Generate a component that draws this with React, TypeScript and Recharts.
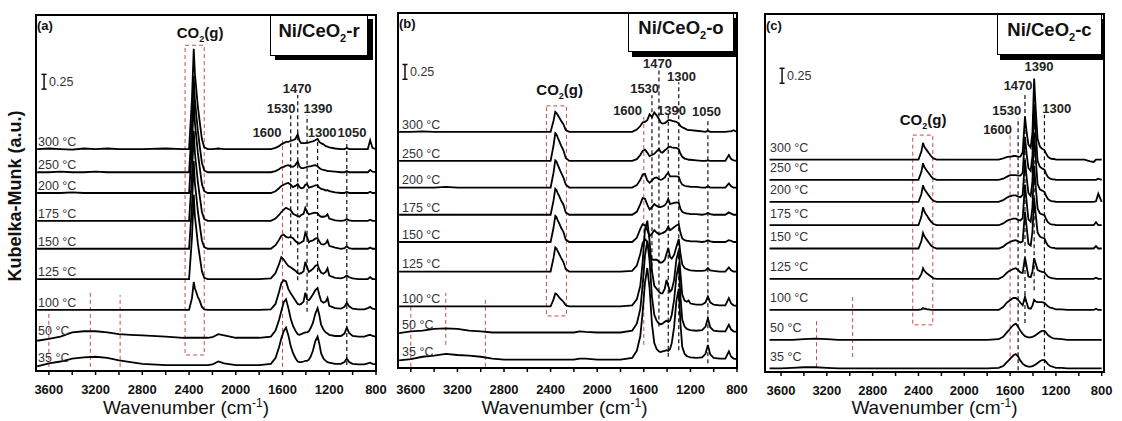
import { LineChart, Line, XAxis, YAxis, ReferenceLine, ReferenceArea, ReferenceDot } from "recharts"

// wavenumber grid (cm-1), denser around the CO2(g) and carbonate bands
const wavenumbers = [
  3700, 3600, 3500, 3400, 3300, 3200, 3100, 3000, 2900, 2800, 2600, 2450,
  2400, 2375, 2360, 2350, 2340, 2325, 2310, 2290, 2270, 2240, 2200, 2150, 2100,
  2000, 1800, 1700,
  1660, 1630, 1610, 1590, 1570, 1550, 1530, 1510, 1490, 1470, 1455, 1440, 1420,
  1405, 1390, 1375, 1360, 1340, 1320, 1300, 1285, 1270, 1250, 1230, 1215, 1200,
  1150, 1100, 1070, 1050, 1030, 1000, 950, 900, 870, 850, 830, 800,
]

const temperatures = ["300 °C", "250 °C", "200 °C", "175 °C", "150 °C", "125 °C", "100 °C", "50 °C", "35 °C"]

const xTicks = [800, 1000, 1200, 1400, 1600, 1800, 2000, 2200, 2400, 2600, 2800, 3000, 3200, 3400, 3600]

// vertical offsets of the stacked spectra (a.u.)
const rodsBaselines = [3.74, 3.35, 3.0, 2.53, 2.06, 1.55, 1.03, 0.56, 0.1]
const octaBaselines = [3.99, 3.5, 3.05, 2.59, 2.13, 1.63, 1.04, 0.6, 0.14]
const cubesBaselines = [3.56, 3.22, 2.85, 2.46, 2.07, 1.56, 1.04, 0.54, 0.06]

// Kubelka-Munk intensity above each baseline, one row per temperature
const rodsSpectra = [
  [0, 0.01, 0, -0.01, 0.01, 0, 0.01, 0, 0, 0, 0.01, 0,
   0, 0.85, 1.69, 1.27, 1.05, 0.72, 0.48, 0.17, 0.03, 0, 0, 0.01, 0,
   0, 0, 0,
   0.02, 0.05, 0.08, 0.1, 0.12, 0.12, 0.14, 0.15, 0.17, 0.25, 0.14, 0.1, 0.1,
   0.1, 0.11, 0.11, 0.12, 0.13, 0.15, 0.17, 0.12, 0.1, 0.08, 0.05, 0.04, 0.03,
   0.01, 0, 0, 0.02, 0, 0, 0, 0, 0, 0.15, 0.02, 0],
  [0, 0, 0.01, 0, 0, 0.01, 0, 0, 0, 0, 0, 0,
   0, 0.8, 1.62, 1.22, 1, 0.7, 0.46, 0.16, 0.03, 0, 0, 0, 0,
   0, 0, 0,
   0.02, 0.05, 0.08, 0.09, 0.11, 0.12, 0.1, 0.09, 0.12, 0.18, 0.1, 0.07, 0.07,
   0.08, 0.09, 0.1, 0.1, 0.11, 0.12, 0.1, 0.07, 0.05, 0.04, 0.03, 0.02, 0.02,
   0.01, 0, 0, 0.02, 0, 0, 0, 0, 0, 0.04, 0.01, 0],
  [0, 0, 0, 0.01, 0, 0, 0, 0, 0, 0, 0, 0,
   0, 0.78, 1.58, 1.18, 0.98, 0.68, 0.45, 0.15, 0.03, 0, 0, 0, 0,
   0, 0, 0,
   0.03, 0.08, 0.12, 0.14, 0.16, 0.17, 0.14, 0.1, 0.12, 0.15, 0.1, 0.08, 0.09,
   0.14, 0.15, 0.09, 0.1, 0.11, 0.13, 0.13, 0.09, 0.07, 0.06, 0.04, 0.05, 0.03,
   0.01, 0, 0, 0.02, 0, 0, 0, 0, 0, 0.02, 0, 0],
  [0, 0, 0, 0, 0, 0, 0, 0, 0, 0, 0, 0,
   0, 0.75, 1.52, 1.14, 0.95, 0.66, 0.44, 0.15, 0.03, 0, 0, 0, 0,
   0, 0, 0,
   0.04, 0.1, 0.15, 0.19, 0.22, 0.2, 0.18, 0.12, 0.1, 0.08, 0.07, 0.1, 0.12,
   0.22, 0.15, 0.11, 0.12, 0.13, 0.14, 0.13, 0.09, 0.07, 0.07, 0.08, 0.11, 0.04,
   0.01, 0, 0.01, 0.03, 0.01, 0, 0, 0, 0, 0.02, 0, 0],
  [0, 0, 0, 0, 0, 0, 0, 0, 0, 0, 0, 0,
   0, 0.72, 1.48, 1.1, 0.92, 0.64, 0.42, 0.14, 0.03, 0, 0, 0, 0,
   0, 0, 0,
   0.06, 0.15, 0.22, 0.24, 0.2, 0.19, 0.2, 0.18, 0.13, 0.1, 0.09, 0.11, 0.13,
   0.27, 0.2, 0.11, 0.13, 0.14, 0.17, 0.18, 0.12, 0.08, 0.07, 0.09, 0.14, 0.05,
   0.02, 0, 0.01, 0.04, 0.01, 0, 0, 0, 0, 0.02, 0, 0],
  [0, 0, 0, 0, 0, 0, 0, 0, 0, 0, 0, 0,
   0, 0.7, 1.42, 1.06, 0.88, 0.6, 0.4, 0.13, 0.02, 0, 0, 0, 0,
   0, 0, 0.01,
   0.1, 0.25, 0.37, 0.33, 0.27, 0.22, 0.2, 0.17, 0.14, 0.1, 0.09, 0.1, 0.13,
   0.29, 0.2, 0.12, 0.14, 0.17, 0.22, 0.24, 0.16, 0.11, 0.09, 0.12, 0.18, 0.06,
   0.02, 0.01, 0.03, 0.06, 0.03, 0.01, 0, 0, 0, 0.03, 0, 0],
  [0, 0, 0, 0, 0, 0, 0, 0, 0, 0, 0, 0,
   0, 0.2, 0.47, 0.36, 0.31, 0.22, 0.16, 0.05, 0.01, 0, 0, 0, 0,
   0, 0, 0.01,
   0.1, 0.3, 0.45, 0.5, 0.48, 0.35, 0.28, 0.22, 0.16, 0.1, 0.09, 0.1, 0.14,
   0.29, 0.18, 0.16, 0.2, 0.26, 0.33, 0.37, 0.25, 0.15, 0.12, 0.14, 0.2, 0.07,
   0.03, 0.02, 0.05, 0.12, 0.06, 0.02, 0.01, 0.01, 0.03, 0.05, 0.02, 0.01],
  [-0.05, -0.02, 0.02, 0.09, 0.11, 0.11, 0.09, 0.06, 0.05, 0.04, 0.02, 0,
   0, 0, 0, 0, 0, 0, 0, 0, 0, 0, 0.01, 0.06, 0.04,
   0, 0, 0.02,
   0.12, 0.3, 0.45, 0.6, 0.65, 0.5, 0.32, 0.2, 0.12, 0.06, 0.05, 0.06, 0.08,
   0.09, 0.09, 0.11, 0.16, 0.25, 0.4, 0.5, 0.38, 0.22, 0.14, 0.09, 0.07, 0.05,
   0.03, 0.03, 0.07, 0.17, 0.08, 0.03, 0.02, 0.02, 0.04, 0.05, 0.03, 0.02],
  [-0.02, 0.03, 0.06, 0.11, 0.13, 0.14, 0.12, 0.08, 0.05, 0.02, 0, 0,
   0, 0, 0, 0, 0, 0, 0, 0, 0, 0, 0.01, 0.06, 0.03,
   0, 0, 0.02,
   0.12, 0.3, 0.45, 0.57, 0.63, 0.5, 0.32, 0.2, 0.12, 0.06, 0.05, 0.05, 0.06,
   0.07, 0.07, 0.09, 0.14, 0.24, 0.4, 0.48, 0.36, 0.2, 0.11, 0.07, 0.05, 0.04,
   0.02, 0.02, 0.05, 0.11, 0.05, 0.02, 0.01, 0.01, 0.03, 0.04, 0.02, 0.01],
]

const octaSpectra = [
  [0, 0, 0.01, 0, 0, 0, 0, 0, 0, 0, 0, 0,
   0, 0.19, 0.34, 0.32, 0.29, 0.24, 0.19, 0.13, 0.03, 0, 0, 0, 0,
   0, 0, 0,
   0.04, 0.1, 0.16, 0.17, 0.2, 0.3, 0.25, 0.33, 0.28, 0.22, 0.16, 0.14, 0.15,
   0.17, 0.2, 0.2, 0.19, 0.18, 0.17, 0.14, 0.1, 0.08, 0.06, 0.04, 0.03, 0.03,
   0.02, 0.01, 0, 0.02, 0, 0, 0, 0, 0.01, 0.01, 0.03, 0],
  [0, 0, 0, 0, 0, 0, 0, 0, 0, 0, 0, 0,
   0, 0.26, 0.47, 0.45, 0.4, 0.33, 0.26, 0.18, 0.05, 0, 0, 0, 0,
   0, 0, 0,
   0.03, 0.1, 0.17, 0.19, 0.14, 0.08, 0.1, 0.12, 0.16, 0.2, 0.15, 0.14, 0.18,
   0.2, 0.23, 0.24, 0.23, 0.22, 0.22, 0.2, 0.12, 0.07, 0.04, 0.03, 0.02, 0.02,
   0.01, 0, 0, 0.01, 0, 0, 0, 0, 0.1, 0.03, 0.01, 0],
  [0, 0, 0, 0, 0.01, 0, 0, 0, 0, 0, 0, 0,
   0, 0.25, 0.46, 0.44, 0.39, 0.32, 0.25, 0.17, 0.05, 0, 0, 0, 0,
   0, 0, 0,
   0.04, 0.13, 0.22, 0.23, 0.12, 0.08, 0.12, 0.16, 0.17, 0.14, 0.13, 0.14, 0.17,
   0.22, 0.25, 0.19, 0.19, 0.19, 0.19, 0.18, 0.1, 0.05, 0.03, 0.02, 0.02, 0.01,
   0.01, 0, 0, 0.02, 0, 0, 0, 0, 0.07, 0.02, 0, 0],
  [0, 0, 0, 0, 0, 0, 0, 0, 0, 0, 0, 0,
   0, 0.24, 0.44, 0.42, 0.37, 0.31, 0.24, 0.17, 0.04, 0, 0, 0, 0,
   0, 0, 0,
   0.05, 0.18, 0.28, 0.27, 0.17, 0.09, 0.13, 0.18, 0.15, 0.13, 0.13, 0.14, 0.16,
   0.2, 0.27, 0.18, 0.19, 0.2, 0.21, 0.2, 0.1, 0.05, 0.03, 0.02, 0.02, 0.01,
   0.01, 0, 0.01, 0.03, 0.01, 0, 0, 0, 0.04, 0.02, 0, 0],
  [0, 0, 0, 0, 0, 0, 0, 0, 0, 0, 0, 0,
   0, 0.24, 0.44, 0.42, 0.37, 0.31, 0.24, 0.17, 0.04, 0, 0, 0, 0,
   0, 0, 0,
   0.07, 0.22, 0.3, 0.28, 0.2, 0.1, 0.14, 0.2, 0.16, 0.13, 0.14, 0.15, 0.17,
   0.2, 0.26, 0.2, 0.22, 0.25, 0.28, 0.3, 0.15, 0.06, 0.03, 0.02, 0.02, 0.01,
   0.01, 0, 0.01, 0.03, 0.01, 0, 0, 0, 0.03, 0.02, 0, 0],
  [0, 0, 0, 0, 0, 0, 0, 0, 0, 0, 0, 0,
   0, 0.23, 0.41, 0.39, 0.35, 0.29, 0.23, 0.16, 0.04, 0, 0, 0, 0,
   0, 0, 0.01,
   0.1, 0.3, 0.48, 0.55, 0.5, 0.3, 0.2, 0.2, 0.2, 0.17, 0.15, 0.16, 0.2,
   0.3, 0.4, 0.25, 0.22, 0.28, 0.42, 0.55, 0.3, 0.12, 0.06, 0.04, 0.03, 0.02,
   0.01, 0.01, 0.02, 0.06, 0.02, 0.01, 0, 0, 0.07, 0.02, 0, 0],
  [0, 0, 0, 0, 0, 0, 0, 0, 0, 0, 0, 0,
   0, 0.12, 0.22, 0.21, 0.19, 0.15, 0.12, 0.08, 0.02, 0, 0, 0, 0,
   0, 0, 0.02,
   0.12, 0.35, 0.75, 1.3, 1.45, 1.1, 0.6, 0.35, 0.3, 0.25, 0.22, 0.22, 0.3,
   0.45, 0.35, 0.25, 0.28, 0.45, 0.8, 0.95, 0.55, 0.2, 0.1, 0.08, 0.1, 0.05,
   0.03, 0.03, 0.07, 0.17, 0.07, 0.03, 0.02, 0.02, 0.14, 0.05, 0.02, 0.01],
  [-0.01, 0.02, 0.03, 0.06, 0.07, 0.06, 0.03, 0.02, 0, 0, 0, 0,
   0, 0, 0, 0, 0, 0, 0, 0, 0, 0, 0, 0.02, 0.01,
   0, 0, 0.03,
   0.15, 0.4, 0.8, 1.3, 1.55, 1.2, 0.6, 0.3, 0.2, 0.15, 0.14, 0.15, 0.18,
   0.2, 0.18, 0.2, 0.3, 0.55, 0.95, 1.15, 0.6, 0.22, 0.1, 0.06, 0.05, 0.04,
   0.03, 0.04, 0.1, 0.24, 0.09, 0.03, 0.02, 0.02, 0.13, 0.05, 0.02, 0.01],
  [-0.01, 0.01, 0.05, 0.07, 0.1, 0.08, 0.07, 0.05, 0.02, 0, 0, 0,
   0, 0, 0, 0, 0, 0, 0, 0, 0, 0, 0, 0.02, 0.02,
   0, 0, 0.03,
   0.15, 0.4, 0.8, 1.3, 1.55, 1.2, 0.6, 0.28, 0.18, 0.14, 0.13, 0.14, 0.15,
   0.16, 0.15, 0.18, 0.28, 0.55, 1.0, 1.2, 0.6, 0.22, 0.1, 0.06, 0.05, 0.04,
   0.03, 0.04, 0.1, 0.25, 0.09, 0.03, 0.02, 0.02, 0.14, 0.05, 0.02, 0.01],
]

const cubesSpectra = [
  [0, 0, 0, 0, 0, 0, 0, 0, 0, 0, 0, 0,
   0, 0.13, 0.28, 0.22, 0.19, 0.15, 0.11, 0.06, 0.02, 0, 0, 0, 0,
   0, 0, 0,
   0.02, 0.04, 0.05, 0.05, 0.06, 0.06, 0.05, 0.05, 0.12, 0.72, 0.45, 0.25, 0.2,
   0.45, 1.36, 0.8, 0.35, 0.22, 0.18, 0.16, 0.1, 0.05, 0.02, 0.01, 0.01, 0,
   0, 0, 0, 0, 0, 0, 0, -0.03, -0.04, 0, 0, 0],
  [0, 0, 0, 0, 0, 0, 0, 0, 0, 0, 0, 0,
   0, 0.13, 0.28, 0.22, 0.19, 0.15, 0.11, 0.06, 0.02, 0, 0, 0, 0,
   0, 0, 0,
   0.02, 0.05, 0.07, 0.08, 0.08, 0.08, 0.07, 0.07, 0.12, 0.72, 0.42, 0.2, 0.15,
   0.4, 1.25, 0.75, 0.32, 0.22, 0.19, 0.17, 0.1, 0.05, 0.02, 0.01, 0.01, 0,
   0, 0, 0, 0, 0, 0, 0, 0, 0, 0, 0.02, 0],
  [0, 0, 0, 0, 0, 0, 0, 0, 0, 0, 0, 0,
   0, 0.13, 0.28, 0.22, 0.19, 0.15, 0.11, 0.06, 0.02, 0, 0, 0, 0,
   0, 0, 0,
   0.03, 0.07, 0.09, 0.1, 0.11, 0.11, 0.09, 0.08, 0.12, 0.7, 0.4, 0.15, 0.1,
   0.35, 1.15, 0.7, 0.3, 0.21, 0.19, 0.17, 0.1, 0.05, 0.02, 0.01, 0.01, 0,
   0, 0, 0, 0, 0, 0, 0, 0, 0, 0.01, 0.14, 0],
  [0, 0, 0, 0, 0, 0, 0, 0, 0, 0, 0, 0,
   0, 0.14, 0.3, 0.24, 0.2, 0.16, 0.11, 0.06, 0.02, 0, 0, 0, 0,
   0, 0, 0,
   0.03, 0.07, 0.09, 0.1, 0.11, 0.11, 0.09, 0.08, 0.12, 0.68, 0.38, 0.1, 0.06,
   0.3, 1.0, 0.62, 0.28, 0.2, 0.18, 0.17, 0.1, 0.05, 0.02, 0.01, 0.01, 0,
   0, 0, 0, 0, 0, 0, 0, 0, 0, 0.05, 0, 0],
  [0, 0, 0, 0, 0, 0, 0, 0, 0, 0, 0, 0,
   0, 0.12, 0.26, 0.21, 0.18, 0.14, 0.1, 0.05, 0.02, 0, 0, 0, 0,
   0, 0, 0,
   0.03, 0.08, 0.1, 0.12, 0.13, 0.14, 0.12, 0.1, 0.12, 0.62, 0.35, 0.08, 0.05,
   0.28, 0.85, 0.55, 0.27, 0.2, 0.18, 0.17, 0.1, 0.05, 0.02, 0.01, 0.01, 0,
   0, 0, 0, 0, 0, 0, 0, 0, 0, 0.04, 0, 0],
  [0, 0, 0, 0, 0, 0, 0, 0, 0, 0, 0, 0,
   0, 0.08, 0.18, 0.14, 0.12, 0.09, 0.07, 0.04, 0.01, 0, 0, 0, 0,
   0, 0, 0,
   0.04, 0.1, 0.13, 0.15, 0.17, 0.18, 0.15, 0.11, 0.1, 0.36, 0.2, 0.04, 0.03,
   0.12, 0.35, 0.25, 0.15, 0.13, 0.12, 0.11, 0.07, 0.04, 0.02, 0.01, 0.01, 0,
   0, 0, 0, 0, 0, 0, 0, 0, 0, 0.02, 0, 0],
  [0, 0, 0, 0, 0, 0, 0, 0, 0, 0, 0, 0,
   0, 0.01, 0.03, 0.02, 0.02, 0.01, 0.01, 0, 0, 0, 0, 0, 0,
   0, 0, 0,
   0.05, 0.12, 0.15, 0.18, 0.2, 0.2, 0.17, 0.12, 0.08, 0.22, 0.12, 0.03, 0.02,
   0.07, 0.17, 0.14, 0.13, 0.13, 0.13, 0.12, 0.09, 0.06, 0.04, 0.03, 0.02, 0.01,
   0.01, 0, 0, 0, 0, 0, 0, 0, 0, 0.02, 0, 0],
  [0, 0, 0, 0.01, 0.02, 0.01, 0, 0, 0, 0, 0, 0,
   0, 0, 0, 0, 0, 0, 0, 0, 0, 0, 0, 0, 0,
   0, 0, 0.01,
   0.05, 0.12, 0.16, 0.21, 0.25, 0.27, 0.22, 0.15, 0.1, 0.06, 0.05, 0.04, 0.04,
   0.05, 0.06, 0.08, 0.1, 0.13, 0.15, 0.15, 0.12, 0.08, 0.05, 0.03, 0.02, 0.02,
   0.01, 0, 0, 0, 0, 0, 0, 0, 0, 0, 0, 0],
  [0, 0, 0.01, 0.02, 0.02, 0.01, 0, 0, 0, 0, 0, 0,
   0, 0, 0, 0, 0, 0, 0, 0, 0, 0, 0, 0, 0,
   0, 0, 0.01,
   0.04, 0.1, 0.14, 0.18, 0.22, 0.24, 0.2, 0.13, 0.08, 0.05, 0.04, 0.03, 0.03,
   0.04, 0.05, 0.07, 0.09, 0.12, 0.14, 0.14, 0.11, 0.07, 0.04, 0.03, 0.02, 0.01,
   0.01, 0, 0, 0, 0, 0, 0, 0, 0, 0, 0, 0],
]

const RED = "#c0504d"
const INK = "#111"

type Note = { text: string; w: number; y: number }
type Guide = { w: number; top: number; bottom: number; red?: boolean }

type PanelSpec = {
  tag: string
  sample: string
  spectra: number[][]
  baselines: number[]
  domain: [number, number]
  left: number
  width: number
  margin: { top: number; right: number; bottom: number; left: number }
  yAxisWidth: number
  xAxisHeight: number
  tickMargin: number
  titleShift: number
  titleBaseline: number
  tempLift: number
  tempOffset: number
  showYTitle: boolean
  notes: Note[]
  guides: Guide[]
  co2: { w: number; y: number }
  co2Box: { from: number; to: number; top: number; bottom: number }
  scaleBar: { w: number; y: number }
  box: { left: number; top: number; width: number; height: number; shadow: string }
  tagPos: { left: number; top: number }
}

const panels: PanelSpec[] = [
  {
    tag: "(a)", sample: "r", spectra: rodsSpectra, baselines: rodsBaselines, domain: [800, 3710],
    left: 0, width: 400, margin: { top: 15, right: 24, bottom: 0, left: 0 }, yAxisWidth: 36, xAxisHeight: 50,
    tickMargin: 10, titleShift: -20, titleBaseline: 43, tempLift: 0.125, tempOffset: 2, showYTitle: true,
    notes: [
      { text: "1470", w: 1475, y: 4.77 }, { text: "1530", w: 1612, y: 4.43 }, { text: "1390", w: 1296, y: 4.43 },
      { text: "1600", w: 1732, y: 4.03 }, { text: "1300", w: 1261, y: 4.03 }, { text: "1050", w: 1005, y: 4.03 },
    ],
    guides: [
      { w: 1600, top: 3.89, bottom: 0.07, red: true }, { w: 1530, top: 4.31, bottom: 2.12 },
      { w: 1470, top: 4.65, bottom: 1.53 }, { w: 1390, top: 4.31, bottom: 1.0 },
      { w: 1300, top: 3.89, bottom: 1.55 }, { w: 1050, top: 3.89, bottom: 0.1 },
      { w: 3600, top: 1.03, bottom: 0.07, red: true }, { w: 3245, top: 1.33, bottom: 0.07, red: true },
      { w: 2990, top: 1.28, bottom: 0.07, red: true },
    ],
    co2: { w: 2306, y: 5.7 }, co2Box: { from: 2434, to: 2270, top: 5.49, bottom: 0.27 },
    scaleBar: { w: 3641, y: 4.75 },
    box: { left: 270, top: 15, width: 98, height: 41, shadow: "5px 4px 0 #000" }, tagPos: { left: 37, top: 19 },
  },
  {
    tag: "(b)", sample: "o", spectra: octaSpectra, baselines: octaBaselines, domain: [800, 3710],
    left: 380, width: 380, margin: { top: 13, right: 23, bottom: 3, left: 0 }, yAxisWidth: 18, xAxisHeight: 50,
    tickMargin: 13, titleShift: -3, titleBaseline: 46, tempLift: 0.13, tempOffset: 4, showYTitle: false,
    notes: [
      { text: "1470", w: 1482, y: 5.15 }, { text: "1300", w: 1276, y: 4.93 }, { text: "1530", w: 1593, y: 4.73 },
      { text: "1600", w: 1739, y: 4.36 }, { text: "1390", w: 1362, y: 4.36 }, { text: "1050", w: 1062, y: 4.33 },
    ],
    guides: [
      { w: 1600, top: 4.28, bottom: 0.39, red: true }, { w: 1530, top: 4.61, bottom: 1.6 },
      { w: 1470, top: 5.04, bottom: 0.7 }, { w: 1390, top: 4.28, bottom: 0.19 },
      { w: 1300, top: 4.83, bottom: 0.3 }, { w: 1050, top: 4.19, bottom: 0.08 },
      { w: 3600, top: 1.15, bottom: 0.02, red: true }, { w: 3300, top: 1.27, bottom: 0.39, red: true },
      { w: 2960, top: 1.15, bottom: 0.02, red: true },
    ],
    co2: { w: 2322, y: 4.7 }, co2Box: { from: 2436, to: 2264, top: 4.43, bottom: 0.88 },
    scaleBar: { w: 3650, y: 4.88 },
    box: { left: 628, top: 13, width: 106, height: 39, shadow: "4px 5px 0 #000" }, tagPos: { left: 399, top: 17 },
  },
  {
    tag: "(c)", sample: "c", spectra: cubesSpectra, baselines: cubesBaselines, domain: [780, 3740],
    left: 750, width: 372, margin: { top: 14, right: 18, bottom: 0, left: 0 }, yAxisWidth: 15, xAxisHeight: 49,
    tickMargin: 10, titleShift: 0, titleBaseline: 42, tempLift: 0.2, tempOffset: 5, showYTitle: false,
    notes: [
      { text: "1390", w: 1347, y: 5.12 }, { text: "1470", w: 1530, y: 4.81 }, { text: "1530", w: 1629, y: 4.39 },
      { text: "1300", w: 1192, y: 4.42 }, { text: "1600", w: 1709, y: 4.06 },
    ],
    guides: [
      { w: 1600, top: 3.97, bottom: 0.26, red: true }, { w: 1530, top: 4.26, bottom: 0.03 },
      { w: 1470, top: 4.69, bottom: 0.82 }, { w: 1390, top: 4.76, bottom: 1.37 },
      { w: 1300, top: 4.31, bottom: 0.03 },
      { w: 3290, top: 0.9, bottom: 0.08, red: true }, { w: 2975, top: 1.26, bottom: 0.25, red: true },
    ],
    co2: { w: 2360, y: 4.22 }, co2Box: { from: 2450, to: 2275, top: 3.97, bottom: 0.79 },
    scaleBar: { w: 3591, y: 4.84 },
    box: { left: 997, top: 14, width: 105, height: 41, shadow: "3px 5px 0 #000" }, tagPos: { left: 766, top: 19 },
  },
]

function AxisTitle({ viewBox, shiftX = 0, baseline = 43 }: any) {
  if (!viewBox) return null
  const cx = viewBox.x + viewBox.width / 2 + shiftX
  return (
    <text x={cx} y={viewBox.y + baseline} textAnchor="middle" fontSize={19} fill={INK}>
      Wavenumber (cm<tspan dy={-7} fontSize={12}>-1</tspan>
      <tspan dy={7}>)</tspan>
    </text>
  )
}

function YTitle({ viewBox }: any) {
  if (!viewBox) return null
  const cx = viewBox.x + 15
  const cy = viewBox.y + viewBox.height / 2 + 3
  return (
    <text x={cx} y={cy} transform={`rotate(-90 ${cx} ${cy})`} textAnchor="middle" dominantBaseline="central"
      fontSize={18} fontWeight={700} fill={INK}>
      Kubelka-Munk (a.u.)
    </text>
  )
}

function Co2Text({ viewBox }: any) {
  if (!viewBox) return null
  return (
    <text x={viewBox.x} y={viewBox.y + 5} textAnchor="middle" fontSize={15} fontWeight={700} fill={INK}>
      CO<tspan dy={4} fontSize={9}>2</tspan>
      <tspan dy={-4}>(g)</tspan>
    </text>
  )
}

function SpectraPanel(p: PanelSpec) {
  const data = wavenumbers.map((w, j) => {
    const row: Record<string, number> = { w }
    p.spectra.forEach((s, i) => {
      row[`t${i}`] = p.baselines[i] + s[j]
    })
    return row
  })
  const [lo, hi] = p.domain
  const bar = p.scaleBar

  return (
    <>
      <div style={{ position: "absolute", left: p.left, top: 0 }}>
        <LineChart width={p.width} height={421} data={data} margin={p.margin}>
          <XAxis
            dataKey="w"
            type="number"
            domain={p.domain}
            reversed
            allowDataOverflow
            ticks={xTicks}
            interval={0}
            tickFormatter={(v: number) => (v % 400 === 0 ? String(v) : "")}
            tickSize={4}
            tickMargin={p.tickMargin}
            height={p.xAxisHeight}
            axisLine={{ stroke: "#000", strokeWidth: 2 }}
            tickLine={{ stroke: "#000", strokeWidth: 1.5 }}
            tick={{ fill: INK, fontSize: 13, fontWeight: 700 }}
            label={<AxisTitle shiftX={p.titleShift} baseline={p.titleBaseline} />}
          />
          <YAxis
            type="number"
            domain={[0, 6]}
            allowDataOverflow
            width={p.yAxisWidth}
            tick={false}
            tickLine={false}
            axisLine={{ stroke: "#000", strokeWidth: 2 }}
            label={p.showYTitle ? <YTitle /> : undefined}
          />
          <ReferenceArea x1={lo} x2={hi} y1={0} y2={6} fill="none" fillOpacity={0} stroke="#000" strokeWidth={2} />

          <ReferenceArea
            x1={p.co2Box.from}
            x2={p.co2Box.to}
            y1={p.co2Box.bottom}
            y2={p.co2Box.top}
            fill="none"
            fillOpacity={0}
            stroke={RED}
            strokeWidth={1}
            strokeDasharray="4 3"
          />
          {p.guides.map((g) => (
            <ReferenceLine
              key={`${g.w}-${g.top}`}
              segment={[{ x: g.w, y: g.bottom }, { x: g.w, y: g.top }]}
              stroke={g.red ? RED : INK}
              strokeWidth={g.red ? 1 : 1.2}
              strokeDasharray="4 3"
            />
          ))}

          {p.spectra.map((_, i) => (
            <Line
              key={temperatures[i]}
              dataKey={`t${i}`}
              type="linear"
              stroke="#000"
              strokeWidth={1.8}
              dot={false}
              isAnimationActive={false}
            />
          ))}

          {temperatures.map((t, i) => (
            <ReferenceDot
              key={t}
              x={hi}
              y={p.baselines[i] + p.tempLift}
              r={0}
              fill="none"
              stroke="none"
              label={{ value: t, position: "right", offset: p.tempOffset, fontSize: 12.5, fill: "#333" }}
            />
          ))}
          {p.notes.map((n) => (
            <ReferenceDot
              key={n.text}
              x={n.w}
              y={n.y}
              r={0}
              fill="none"
              stroke="none"
              label={{ value: n.text, position: "center", fontSize: 13, fontWeight: 700, fill: "#222" }}
            />
          ))}
          <ReferenceDot x={p.co2.w} y={p.co2.y} r={0} fill="none" stroke="none" label={<Co2Text />} />

          {/* 0.25 a.u. scale bar */}
          <ReferenceLine segment={[{ x: bar.w, y: bar.y }, { x: bar.w, y: bar.y + 0.25 }]} stroke={INK} strokeWidth={1.5} />
          <ReferenceLine segment={[{ x: bar.w + 22, y: bar.y }, { x: bar.w - 22, y: bar.y }]} stroke={INK} strokeWidth={1.5} />
          <ReferenceLine
            segment={[{ x: bar.w + 22, y: bar.y + 0.25 }, { x: bar.w - 22, y: bar.y + 0.25 }]}
            stroke={INK}
            strokeWidth={1.5}
          />
          <ReferenceDot
            x={bar.w}
            y={bar.y + 0.125}
            r={0}
            fill="none"
            stroke="none"
            label={{ value: "0.25", position: "right", offset: 5, fontSize: 12.5, fill: "#333" }}
          />
        </LineChart>
      </div>

      <div
        style={{
          position: "absolute",
          left: p.tagPos.left,
          top: p.tagPos.top,
          fontSize: 13,
          fontWeight: 700,
          color: INK,
          lineHeight: 1,
        }}
      >
        {p.tag}
      </div>
      <div
        style={{
          position: "absolute",
          left: p.box.left,
          top: p.box.top,
          width: p.box.width,
          height: p.box.height,
          boxSizing: "border-box",
          border: "1.5px solid #000",
          background: "#fff",
          boxShadow: p.box.shadow,
          display: "flex",
          alignItems: "center",
          justifyContent: "center",
          paddingBottom: 5,
          fontSize: 18.5,
          fontWeight: 700,
          color: INK,
          lineHeight: 1,
        }}
      >
        <span>
          Ni/CeO<sub style={{ fontSize: 11, verticalAlign: "-5px" }}>2</sub>-{p.sample}
        </span>
      </div>
    </>
  )
}

export default function App() {
  return (
    <div
      style={{
        position: "absolute",
        left: 0,
        top: 0,
        width: 1122,
        height: 421,
        background: "#fff",
        overflow: "hidden",
        fontFamily: "'Liberation Sans', Arial, sans-serif",
      }}
    >
      {panels.map((p) => (
        <SpectraPanel key={p.tag} {...p} />
      ))}
    </div>
  )
}
